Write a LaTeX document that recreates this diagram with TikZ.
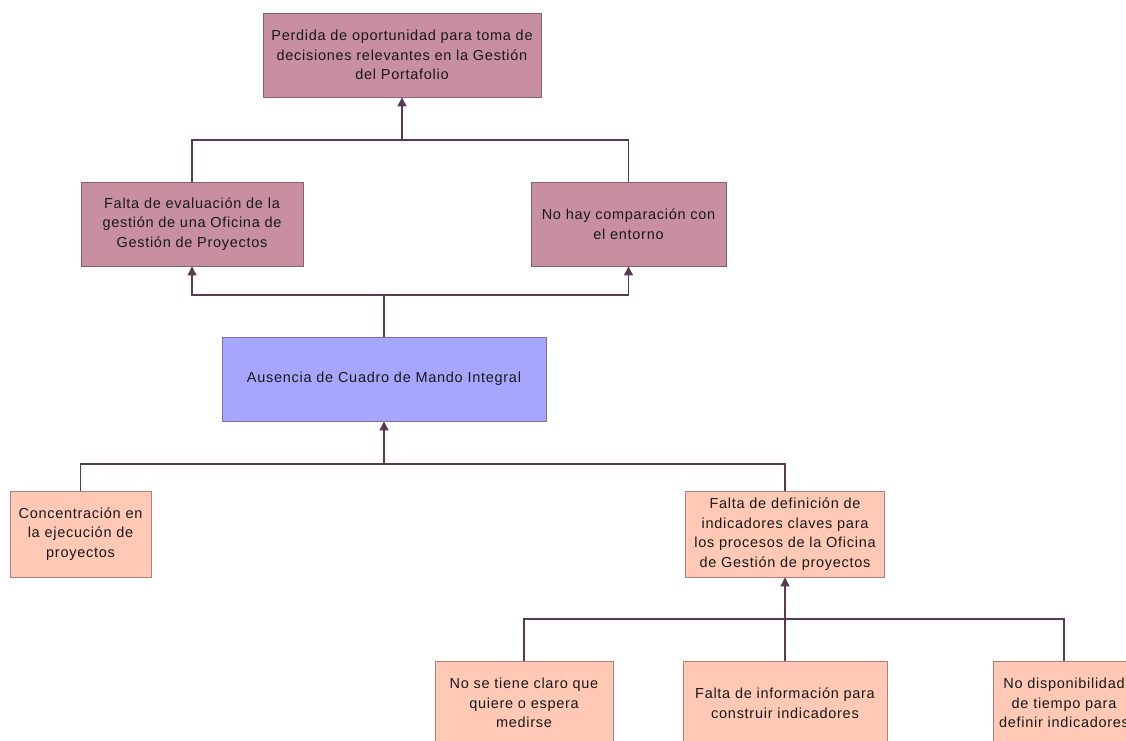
\documentclass[tikz,border=0pt]{standalone}
\usepackage{fontspec}
\setmainfont{Liberation Sans}[LetterSpace=5]
\usetikzlibrary{arrows.meta}
\definecolor{mauvefill}{RGB}{200,143,160}
\definecolor{mauveline}{RGB}{140,95,115}
\definecolor{bluefill}{RGB}{166,166,255}
\definecolor{blueline}{RGB}{130,110,150}
\definecolor{peachfill}{RGB}{255,201,181}
\definecolor{peachline}{RGB}{175,125,125}
\definecolor{wire}{RGB}{88,58,82}
\definecolor{ink}{RGB}{25,25,25}
\tikzset{
  box/.style={rectangle, draw, line width=0.9pt, align=center, inner sep=0pt,
    minimum height=84pt, text=ink,
    font=\fontsize{14.5}{19.5}\selectfont},
  effect/.style={box, fill=mauvefill, draw=mauveline},
  core/.style={box, fill=bluefill, draw=blueline},
  cause/.style={box, fill=peachfill, draw=peachline},
  wireline/.style={draw=wire, line width=1.3pt},
  up/.style={wireline, -{Triangle[width=9pt,length=9pt]}}
}
\begin{document}
\begin{tikzpicture}[x=1pt,y=-1pt]
\clip (0,0) rectangle (1126,740);
\fill[white] (0,0) rectangle (1126,740);

% effects
\node[effect, minimum width=278pt] (top) at (402,55)
  {Perdida de oportunidad para toma de\\decisiones relevantes en la Gestión\\del Portafolio};
\node[effect, minimum width=222pt] (eval) at (192,224)
  {Falta de evaluación de la\\gestión de una Oficina de\\Gestión de Proyectos};
\node[effect, minimum width=195pt] (comp) at (628.5,224)
  {No hay comparación con\\el entorno};

% central problem
\node[core, minimum width=324pt] (cmi) at (384,379)
  {Ausencia de Cuadro de Mando Integral};

% causes
\node[cause, minimum width=141pt, minimum height=86pt] (conc) at (80.5,534)
  {Concentración en\\la ejecución de\\proyectos};
\node[cause, minimum width=199pt, minimum height=86pt] (indic) at (785,534)
  {Falta de definición de\\indicadores claves para\\los procesos de la Oficina\\de Gestión de proyectos};
\node[cause, minimum width=178pt] (claro) at (524,703)
  {No se tiene claro que\\quiere o espera\\medirse};
\node[cause, minimum width=204pt] (info) at (785,703)
  {Falta de información para\\construir indicadores};
\node[cause, minimum width=142pt] (tiempo) at (1064,703)
  {No disponibilidad\\de tiempo para\\definir indicadores};

% junction points
\coordinate (j1) at (402,140);
\coordinate (j2) at (384,295);
\coordinate (j3) at (384,464);
\coordinate (j4) at (785,619);

% connectors
\draw[wireline] (eval.north) |- (j1) -| (comp.north);
\draw[up] (j1) -- (top.south);

\draw[wireline] (cmi.north) -- (j2);
\draw[up] (j2) -| (eval.south);
\draw[up] (j2) -| (comp.south);

\draw[wireline] (conc.north) |- (j3) -| (indic.north);
\draw[up] (j3) -- (cmi.south);

\draw[wireline] (claro.north) |- (j4) -| (tiempo.north);
\draw[wireline] (info.north) -- (j4);
\draw[up] (j4) -- (indic.south);
\end{tikzpicture}
\end{document}
